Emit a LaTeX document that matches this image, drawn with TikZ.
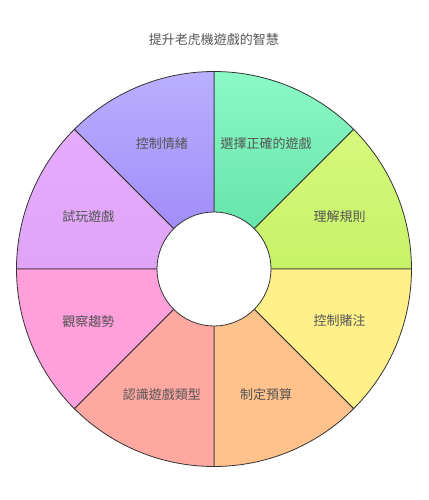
\documentclass[tikz,border=0pt]{standalone}
\usepackage{fontspec}
\setmainfont{Noto Sans CJK TC}
\usepackage{xcolor}
\usepackage{tikz}

\definecolor{edge}{HTML}{333333}
\definecolor{txt}{HTML}{555555}
\definecolor{greenT}{HTML}{8BF9C6}
\definecolor{greenB}{HTML}{5CE0A2}
\definecolor{limeT}{HTML}{D6F97C}
\definecolor{limeB}{HTML}{C6F268}
\definecolor{purpT}{HTML}{BAAFFF}
\definecolor{purpB}{HTML}{9A84F6}
\definecolor{violT}{HTML}{E5ABFD}
\definecolor{violB}{HTML}{DFA4F6}
\definecolor{yellowF}{HTML}{FFF08A}
\definecolor{orangeF}{HTML}{FFC28A}
\definecolor{salmonF}{HTML}{FFA8A2}
\definecolor{pinkF}{HTML}{FF9FDC}

\begin{document}
\begin{tikzpicture}[
			x=1pt, y=1pt,
			wedge/.style={draw=edge, line width=0.8pt},
			hole/.style={draw=edge, line width=0.8pt, fill=white},
			lbl/.style={font=\fontsize{13}{15}\selectfont, text=txt, inner sep=0pt},
			headline/.style={font=\fontsize{13}{15}\selectfont, text=txt, inner sep=0pt}
			]
			\useasboundingbox (-214,-231) rectangle (214,269);
			
			%==================== 標題 ====================
			\node[headline] (title) at (0,229) {提升老虎機遊戲的智慧};
			
			%==================== 上半部扇形 ====================
			\draw[wedge, top color=greenT, bottom color=greenB] (0,0) -- (90:197.5) arc[start angle=90, end angle=45, radius=197.5] -- cycle;
			\draw[wedge, top color=limeT, bottom color=limeB] (0,0) -- (45:197.5) arc[start angle=45, end angle=0, radius=197.5] -- cycle;
			\draw[wedge, top color=purpT, bottom color=purpB] (0,0) -- (135:197.5) arc[start angle=135, end angle=90, radius=197.5] -- cycle;
			\draw[wedge, top color=violT, bottom color=violB] (0,0) -- (180:197.5) arc[start angle=180, end angle=135, radius=197.5] -- cycle;
			
			%==================== 下半部扇形 ====================
			\draw[wedge, fill=yellowF] (0,0) -- (0:197.5) arc[start angle=0, end angle=-45, radius=197.5] -- cycle;
			\draw[wedge, fill=orangeF] (0,0) -- (-45:197.5) arc[start angle=-45, end angle=-90, radius=197.5] -- cycle;
			\draw[wedge, fill=salmonF] (0,0) -- (-90:197.5) arc[start angle=-90, end angle=-135, radius=197.5] -- cycle;
			\draw[wedge, fill=pinkF] (0,0) -- (-135:197.5) arc[start angle=-135, end angle=-180, radius=197.5] -- cycle;
			
			%==================== 中心圓 ====================
			\draw[hole] (0,0) circle[radius=57];
			
			%==================== 標籤 ====================
			\node[lbl] (choose) at (67.5:136) {選擇正確的遊戲};
			\node[lbl] (rules) at (22.5:136) {理解規則};
			\node[lbl] (bets) at (-22.5:136) {控制賭注};
			\node[lbl] (budget) at (-67.5:136) {制定預算};
			\node[lbl] (types) at (-112.5:136) {認識遊戲類型};
			\node[lbl] (trends) at (-157.5:136) {觀察趨勢};
			\node[lbl] (trial) at (157.5:136) {試玩遊戲};
			\node[lbl] (mood) at (112.5:136) {控制情緒};
			
		\end{tikzpicture}
\end{document}
